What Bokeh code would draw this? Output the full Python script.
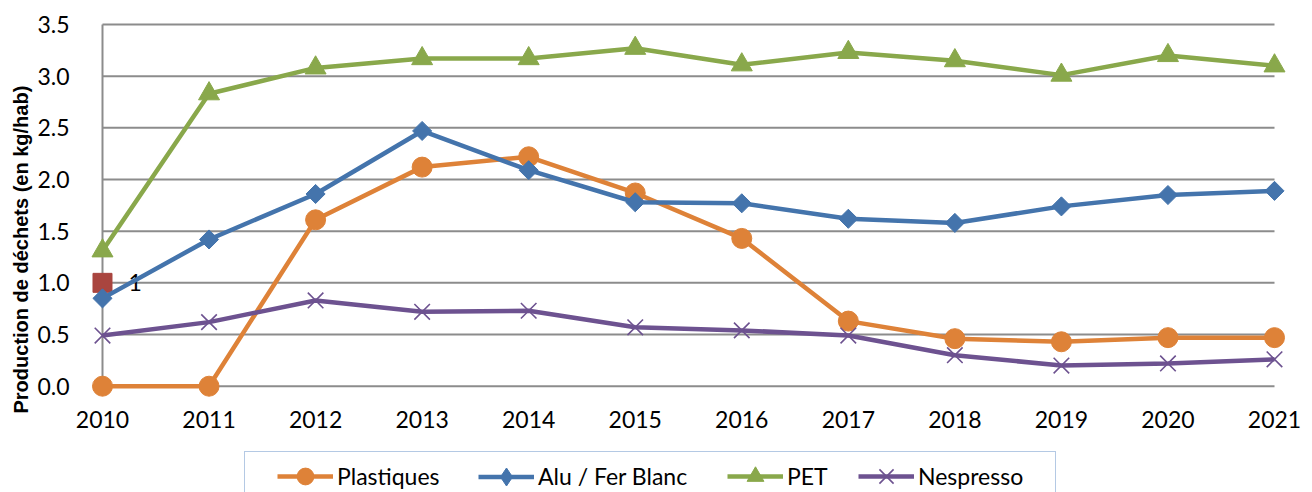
import math
from bokeh.plotting import figure
from bokeh.layouts import column
from bokeh.models import Range1d, FixedTicker, Legend, LegendItem, Title
from bokeh.embed import file_html
from bokeh.resources import INLINE
from bokeh.core.properties import value

# ---------------- data ----------------
years = [2010, 2011, 2012, 2013, 2014, 2015, 2016, 2017, 2018, 2019, 2020, 2021]
year_labels = [str(y) for y in years]
plastiques = [0.0, 0.0, 1.61, 2.12, 2.22, 1.87, 1.43, 0.63, 0.46, 0.43, 0.47, 0.47]
alu = [0.85, 1.42, 1.86, 2.47, 2.09, 1.78, 1.77, 1.62, 1.58, 1.74, 1.85, 1.89]
pet = [1.31, 2.83, 3.08, 3.17, 3.17, 3.27, 3.11, 3.23, 3.15, 3.01, 3.20, 3.10]
nespresso = [0.49, 0.62, 0.83, 0.72, 0.73, 0.57, 0.54, 0.49, 0.30, 0.20, 0.22, 0.26]
extra_x = [2010]
extra_y = [1.0]
extra_label = ["1"]
y_ticks = [0.0, 0.5, 1.0, 1.5, 2.0, 2.5, 3.0, 3.5]
y_tick_labels = ["0.0", "0.5", "1.0", "1.5", "2.0", "2.5", "3.0", "3.5"]
series_names = ["Plastiques", "Alu / Fer Blanc", "PET", "Nespresso"]
y_title = "Production de déchets (en kg/hab)"

# ---------------- style ----------------
FONT = "Lato"
C_ORANGE = "#DE8238"
C_BLUE = "#4474AC"
C_GREEN = "#89A84B"
C_PURPLE = "#6D5290"
C_RED = "#A9453F"
C_GRID = "#8C8C8C"
LW = 4.5

p = figure(width=1312, height=438, output_backend="svg", toolbar_location=None,
           x_range=Range1d(2009.8874, 2021.1126), y_range=Range1d(-0.1190, 3.5387),
           min_border_left=90, min_border_right=26, min_border_top=20, min_border_bottom=40)
p.outline_line_color = None
p.xgrid.visible = False
p.ygrid.visible = False

# grid lines and y axis line limited to the plot area
n = len(y_ticks)
p.segment(x0=[years[0]] * n, y0=y_ticks, x1=[years[-1]] * n, y1=y_ticks,
          line_color=C_GRID, line_width=2)
p.segment(x0=[years[0]], y0=[y_ticks[0]], x1=[years[0]], y1=[y_ticks[-1]],
          line_color=C_GRID, line_width=2)

# axes
xa = p.xaxis[0]
xa.ticker = FixedTicker(ticks=years)
xa.major_label_overrides = {y: l for y, l in zip(years, year_labels)}
ya = p.yaxis[0]
ya.ticker = FixedTicker(ticks=y_ticks)
ya.major_label_overrides = {t: l for t, l in zip(y_ticks, y_tick_labels)}
for ax in (xa, ya):
    ax.axis_line_color = None
    ax.major_tick_line_color = None
    ax.minor_tick_line_color = None
    ax.major_label_text_font = FONT
    ax.major_label_text_font_size = "23px"
    ax.major_label_text_color = "black"
xa.major_label_standoff = 6
ya.major_label_standoff = 15

p.add_layout(Title(text=y_title, text_font="Liberation Sans", text_font_style="bold",
                   text_font_size="20px", text_color="black", align="left",
                   vertical_align="bottom", offset=-15, standoff=6), "left")

# stray point with its label
p.scatter(extra_x, extra_y, marker="square", size=19, fill_color=C_RED, line_color=C_RED)
p.text(x=extra_x, y=extra_y, text=extra_label, x_offset=26, text_baseline="middle",
       text_align="left", text_font=value(FONT), text_font_size="23px", text_color="black")

# series
series = [plastiques, alu, pet, nespresso]
colors = [C_ORANGE, C_BLUE, C_GREEN, C_PURPLE]
marker_kw = [
    dict(marker="circle", size=20),
    dict(marker="square", angle=math.pi / 4, size=13.5),
    dict(marker="triangle", size=21),
    dict(marker="x", size=22, line_width=1.6),
]
for vals, col, mk in zip(series, colors, marker_kw):
    p.line(years, vals, line_color=col, line_width=LW)
    p.scatter(years, vals, fill_color=col, line_color=col, **mk)

# ---------------- legend strip (separate figure below) ----------------
lg = figure(width=1312, height=54, output_backend="svg", toolbar_location=None,
            x_range=Range1d(0, 1), y_range=Range1d(0, 1), min_border=0,
            min_border_left=90, min_border_right=26,
            x_axis_location=None, y_axis_location=None)
lg.outline_line_color = None
lg.grid.visible = False

# legend frame (dummy item used only for the box)
dummy = lg.line(x=[-5, -4], y=[-5, -4], line_alpha=0)
box = Legend(items=[LegendItem(label=" ", renderers=[dummy])], location=(154, -7),
             orientation="horizontal", glyph_width=810, glyph_height=46, label_width=0,
             label_height=46, label_standoff=0, padding=0, margin=0, spacing=0,
             border_line_color="#6A93C9", border_line_width=1.5,
             background_fill_color="white", background_fill_alpha=1.0,
             label_text_font_size="1px")
lg.add_layout(box, "center")

legend_markers = [
    dict(marker="circle"),
    dict(marker="diamond"),
    dict(marker="triangle"),
    dict(marker="x", line_width=1.6),
]
glyph_heights = [42, 45, 42, 50]
x_positions = [187, 388, 637, 768]
for name, col, mk, gh, vx in zip(series_names, colors, legend_markers, glyph_heights, x_positions):
    lr = lg.line([-5, -4], [-5, -4], line_color=col, line_width=LW)
    mr = lg.scatter([-5], [-5], fill_color=col, line_color=col, **mk)
    leg = Legend(items=[LegendItem(label=name, renderers=[lr, mr])],
                 location=(vx, 16 - gh / 2), orientation="horizontal",
                 glyph_width=56, glyph_height=gh, label_height=gh, label_standoff=4,
                 padding=0, margin=0, spacing=0, border_line_color=None,
                 background_fill_alpha=0.0, label_text_font=FONT,
                 label_text_font_size="23px", label_text_color="black")
    lg.add_layout(leg, "center")

layout = column(p, lg, spacing=0)
open("out.html", "w").write(file_html(layout, INLINE))
